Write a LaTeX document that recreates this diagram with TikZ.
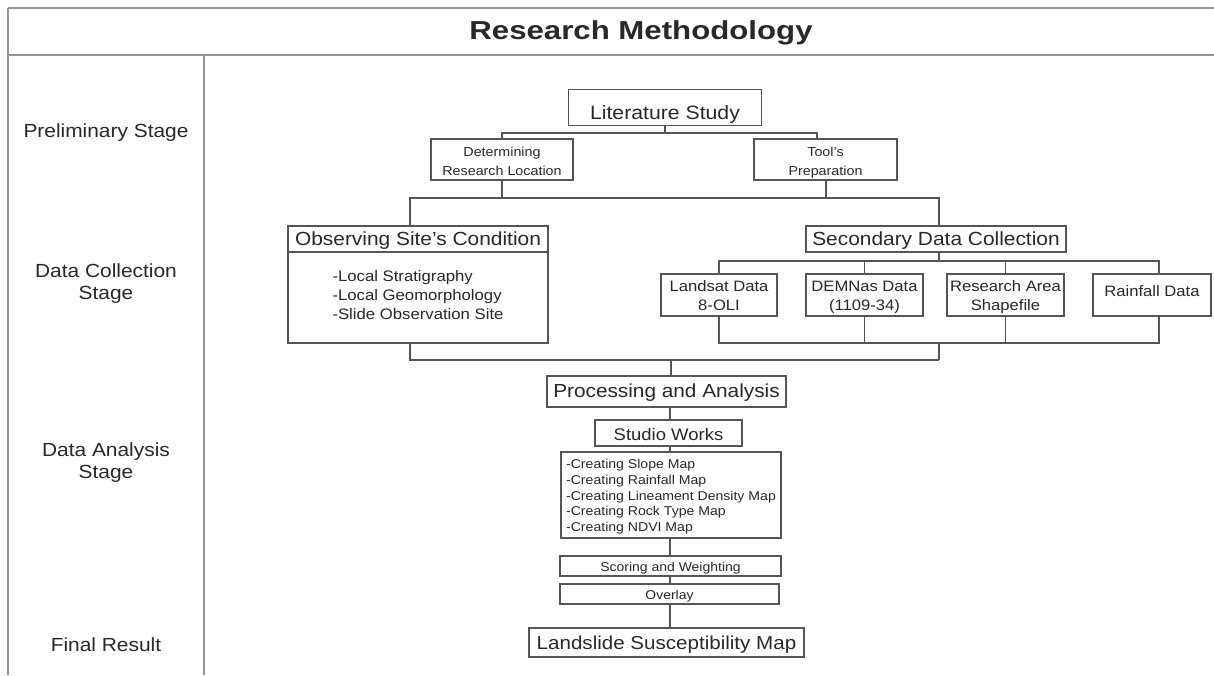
\documentclass[tikz,border=0pt]{standalone}
\usepackage{fontspec}
\setmainfont{Liberation Sans}[FakeStretch=1.1]
\newfontfamily\titlefont{Liberation Sans}[FakeStretch=1.2]
\definecolor{txt}{HTML}{282828}
\definecolor{ln}{HTML}{555555}
\definecolor{frm}{HTML}{959595}
\newcommand{\fsz}[2]{\fontsize{#1}{#2}\selectfont}
\newcommand{\twoc}[2]{\begin{tabular}[t]{@{}c@{}}#1\\#2\end{tabular}}
\tikzset{
  bx/.style={draw=ln, line width=1.1pt, text=txt, inner sep=0pt, fill=white},
  sl/.style={text height=#1, text depth=0pt},
  ml/.style={text height=0pt, text depth=#1},
  stg/.style={anchor=base, text=txt, inner sep=0pt, font=\fsz{19}{22.5}},
  cn/.style={draw=ln, line width=1.1pt},
  fr/.style={draw=frm, line width=1.8pt},
  fr2/.style={draw=frm, line width=1.3pt}
}
\begin{document}
\begin{tikzpicture}[x=1pt, y=-1pt]
\useasboundingbox (0,0) rectangle (1214,675);
\fill[white] (0,0) rectangle (1214,675);
% frame
\coordinate (fTL) at (8,8);
\coordinate (fTR) at (1214,8);
\coordinate (fML) at (8,55);
\coordinate (fMR) at (1214,55);
\coordinate (fBL) at (8,675);
\coordinate (dT) at (204,55);
\coordinate (dB) at (204,675);
\draw[fr] (fTL) -- (fTR);
\draw[fr] (fML) -- (fMR);
\draw[fr2] (fTL) -- (fBL);
\draw[fr2] (dT) -- (dB);
\node[anchor=base, text=txt, inner sep=0pt] (title) at (641,39.3) {\titlefont\bfseries\fsz{26}{30}Research Methodology};

% stage labels
\node[stg] (s1) at (106,137.3) {Preliminary Stage};
\node[stg] (s2) at (106,277) {\twoc{Data Collection}{Stage}};
\node[stg] (s3) at (106,456) {\twoc{Data Analysis}{Stage}};
\node[stg] (s4) at (106,651.7) {Final Result};

% boxes
\node[bx, sl=23.6, minimum width=193, minimum height=36.5, font=\fsz{19.3}{22}] (lit) at (665,107.5) {Literature Study};
\node[bx, ml=5.6, minimum width=142, minimum height=41, font=\fsz{13}{18.3}] (det) at (502,159.5) {\twoc{Determining}{Research Location}};
\node[bx, ml=5.6, minimum width=143, minimum height=41, font=\fsz{13}{18.3}] (tool) at (825.5,159.5) {\twoc{Tool's}{Preparation}};

\node[bx, sl=13.4, minimum width=260, minimum height=26, font=\fsz{19}{22}] (obsH) at (418,239) {Observing Site’s Condition};
\node[bx, ml=31.6, minimum width=260, minimum height=91, font=\fsz{15.2}{18.8}] (obsB) at (418,297.5) {\begin{tabular}[t]{@{}l@{}}-Local Stratigraphy\\-Local Geomorphology\\-Slide Observation Site\end{tabular}};

\node[bx, sl=12.6, minimum width=260, minimum height=26, font=\fsz{19}{22}] (sec) at (936,239) {Secondary Data Collection};
\node[bx, ml=6.6, minimum width=116, minimum height=42, font=\fsz{15.1}{18.3}] (lsat) at (719,295) {\twoc{Landsat Data}{8-OLI}};
\node[bx, ml=6.6, minimum width=117, minimum height=42, font=\fsz{15.1}{18.3}] (dem) at (864.5,295) {\twoc{DEMNas Data}{(1109-34)}};
\node[bx, ml=6.6, minimum width=117, minimum height=42, font=\fsz{15.1}{18.3}] (res) at (1005.5,295) {\twoc{Research Area}{Shapefile}};
\node[bx, sl=2, minimum width=118, minimum height=42, font=\fsz{15.1}{18.3}] (rain) at (1152,295) {Rainfall Data};

\node[bx, sl=12.4, minimum width=239, minimum height=31, font=\fsz{18.9}{22}] (proc) at (666.5,391.5) {Processing and Analysis};
\node[bx, sl=14, minimum width=147, minimum height=26, font=\fsz{16.8}{20}] (stu) at (668.5,433) {Studio Works};
\node[bx, ml=52.6, minimum width=220, minimum height=86, font=\fsz{12.8}{15.75}] (lst) at (671,495) {\begin{tabular}[t]{@{}l@{}}-Creating Slope Map\\-Creating Rainfall Map\\-Creating Lineament Density Map\\-Creating Rock Type Map\\-Creating NDVI Map\end{tabular}};
\node[bx, sl=11.4, minimum width=221, minimum height=20, font=\fsz{12.7}{15}] (scw) at (670.5,566) {Scoring and Weighting};
\node[bx, sl=10.6, minimum width=219, minimum height=20, font=\fsz{12.7}{15}] (ovl) at (669.5,594) {Overlay};
\node[bx, sl=13.6, minimum width=275, minimum height=29, font=\fsz{18.7}{22}] (lsm) at (666.5,642.5) {Landslide Susceptibility Map};

% junction coordinates
\coordinate (j1) at (665,133);
\coordinate (xT) at (817,0);
\coordinate (j2) at (502,198);
\coordinate (xTb) at (826,0);
\coordinate (xO) at (410,0);
\coordinate (xS) at (939,0);
\coordinate (j3) at (939,261);
\coordinate (j4) at (939,343);
\coordinate (j5) at (939,360);
\coordinate (xR) at (1159,0);
\coordinate (xP) at (671,0);
\coordinate (xV) at (670,0);

% connectors
\draw[cn] (lit.south) -- (j1);
\draw[cn] (det.north) |- (j1) -| (tool.north -| xT);
\draw[cn] (det.south) -- (j2);
\draw[cn] (tool.south -| xTb) -- (j2 -| xTb);
\draw[cn] (obsH.north -| xO) |- (j2) -| (sec.north -| xS);
\draw[cn] (sec.south -| xS) -- (j3);
\draw[cn] (lsat.north) |- (j3) -| (rain.north -| xR);
\draw[cn] (dem.north) -- (j3 -| dem.north);
\draw[cn] (res.north) -- (j3 -| res.north);
\draw[cn] (lsat.south) |- (j4) -| (rain.south -| xR);
\draw[cn] (dem.south) -- (j4 -| dem.south);
\draw[cn] (res.south) -- (j4 -| res.south);
\draw[cn] (j4) -- (j5);
\draw[cn] (obsB.south -| xO) |- (j5);
\draw[cn] (proc.north -| xP) -- (j5 -| xP);
\draw[cn] (proc.south -| xV) -- (stu.north -| xV);
\draw[cn] (stu.south -| xV) -- (lst.north -| xV);
\draw[cn] (lst.south -| xV) -- (scw.north -| xV);
\draw[cn] (scw.south -| xV) -- (ovl.north -| xV);
\draw[cn] (ovl.south -| xV) -- (lsm.north -| xV);
\end{tikzpicture}
\end{document}
